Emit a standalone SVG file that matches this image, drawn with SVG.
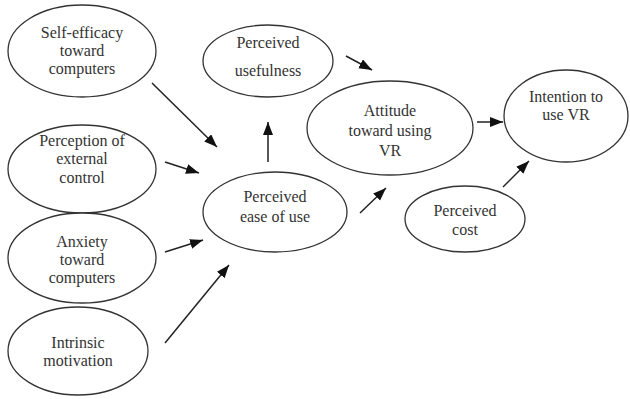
<svg xmlns="http://www.w3.org/2000/svg" width="630" height="399" viewBox="0 0 630 399">
<style>
.n ellipse{fill:#fff;stroke:#333;stroke-width:1.3}
.n text{font-family:"Liberation Serif","Times New Roman",serif;font-size:16px;fill:#333;text-anchor:middle}
.c line{stroke:#222;stroke-width:1.5;marker-end:url(#ah)}
</style>
<defs>
<marker id="ah" markerUnits="userSpaceOnUse" markerWidth="14" markerHeight="12" refX="13" refY="5" orient="auto">
<path d="M0,0 L13,5 L0,10 Z" fill="#111"/>
</marker>
</defs>
<rect width="630" height="399" fill="#fff"/>
<g id="self-efficacy" class="n"><ellipse cx="82" cy="51" rx="74" ry="46"/>
<text x="82" y="38">Self-efficacy</text><text x="82" y="56">toward</text><text x="82" y="74">computers</text></g>
<g id="external-control" class="n"><ellipse cx="82" cy="169" rx="74" ry="44"/>
<text x="82" y="146">Perception of</text><text x="82" y="164">external</text><text x="82" y="183">control</text></g>
<g id="anxiety" class="n"><ellipse cx="82" cy="258" rx="74" ry="45"/>
<text x="82" y="247">Anxiety</text><text x="82" y="265">toward</text><text x="82" y="283">computers</text></g>
<g id="intrinsic" class="n"><ellipse cx="78" cy="351" rx="70" ry="44"/>
<text x="78" y="348">Intrinsic</text><text x="78" y="366">motivation</text></g>
<g id="usefulness" class="n"><ellipse cx="268" cy="61" rx="65" ry="36"/>
<text x="268" y="48">Perceived</text><text x="268" y="76">usefulness</text></g>
<g id="ease" class="n"><ellipse cx="275" cy="212" rx="72" ry="40"/>
<text x="275" y="202">Perceived</text><text x="275" y="222">ease of use</text></g>
<g id="attitude" class="n"><ellipse cx="390" cy="128" rx="83" ry="47"/>
<text x="390" y="116">Attitude</text><text x="390" y="136">toward using</text><text x="390" y="156">VR</text></g>
<g id="intention" class="n"><ellipse cx="566" cy="116" rx="62" ry="46"/>
<text x="566" y="102">Intention to</text><text x="566" y="120">use VR</text></g>
<g id="cost" class="n"><ellipse cx="465" cy="219" rx="60" ry="33"/>
<text x="465" y="216">Perceived</text><text x="465" y="235">cost</text></g>
<g id="connectors" class="c">
<line x1="152" y1="83" x2="217" y2="147"/>
<line x1="165" y1="162" x2="199" y2="173"/>
<line x1="268" y1="162" x2="268" y2="122"/>
<line x1="165" y1="252" x2="203" y2="240"/>
<line x1="165" y1="343" x2="229" y2="265"/>
<line x1="346" y1="56" x2="372" y2="70"/>
<line x1="477" y1="122" x2="503" y2="122"/>
<line x1="360" y1="213" x2="386" y2="188"/>
<line x1="503" y1="187" x2="529" y2="161"/>
</g>
</svg>
